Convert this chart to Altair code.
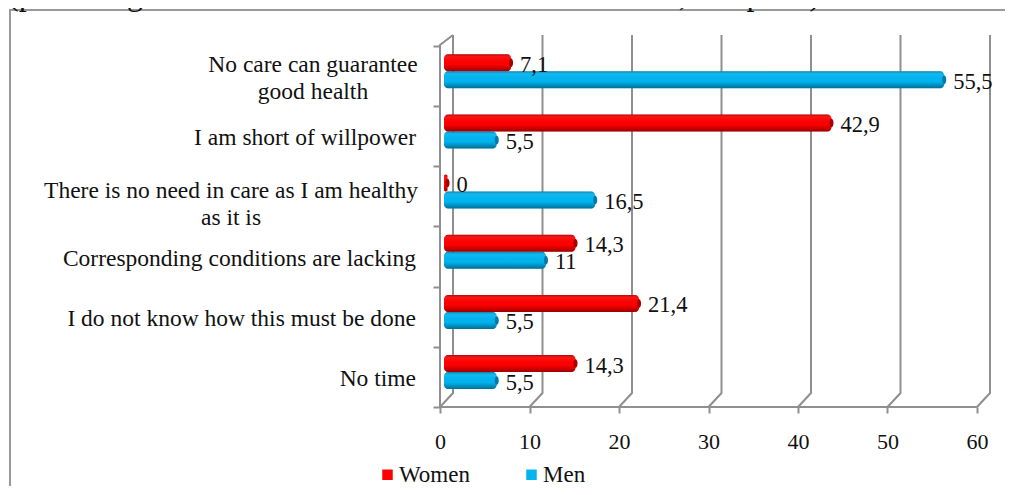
import altair as alt
import pandas as pd

categories = ["No care can guarantee\ngood health", "I am short of willpower",
              "There is no need in care as I am healthy\nas it is",
              "Corresponding conditions are lacking",
              "I do not know how this must be done", "No time"]
women = [7.1, 42.9, 0, 14.3, 21.4, 14.3]
men = [55.5, 5.5, 16.5, 11, 5.5, 5.5]
women_text = ["7,1", "42,9", "0", "14,3", "21,4", "14,3"]
men_text = ["55,5", "5,5", "16,5", "11", "5,5", "5,5"]
x_ticks = [0, 10, 20, 30, 40, 50, 60]
title_text = "(percentage of the total number of those interviewed, sample 1)"
multi_blocks = {0: (-127, -11), 2: (-209, -5)}

FONT = "Liberation Serif"
GREY = "#8f8f8f"
PX_X = 8.95          # pixels per x unit
PX_Y = 60.17         # pixels per category band
DEPTH_X = 13 / PX_X  # depth of the 3D wall
DEPTH_Y = 14 / PX_Y
BAR_X = 7.5 / PX_X   # bars sit mid depth
BAR_Y = 0.08
HALF = 17 / PX_Y
W, H = 565, 372
X_MAX = W / PX_X
Y_MAX = H / PX_Y
n = len(categories)

x_scale = alt.Scale(domain=[0, X_MAX], nice=False, zero=False, padding=0)
y_scale = alt.Scale(domain=[0, Y_MAX], nice=False, zero=False, padding=0)
x_axis = alt.Axis(values=x_ticks, grid=False, domain=False, tickColor=GREY, tickWidth=2,
                  tickSize=6, labelFont=FONT, labelFontSize=22, labelColor="#111",
                  labelPadding=18, format="d", labelFlush=False, labelOverlap=False, title=None)
y_axis = alt.Axis(values=list(range(n + 1)), grid=False, domain=False, labels=False,
                  tickColor=GREY, tickWidth=2, tickSize=7, title=None)


def X(field):
    return alt.X(field, scale=x_scale, axis=x_axis)


def Y(field):
    return alt.Y(field, scale=y_scale, axis=y_axis)


# 3D walls
wall = []
for t in x_ticks:
    wall += [dict(t=t, o=0, x=t, y=0), dict(t=t, o=1, x=t + DEPTH_X, y=DEPTH_Y),
             dict(t=t, o=2, x=t + DEPTH_X, y=Y_MAX)]
walls = alt.Chart(pd.DataFrame(wall)).mark_line(color=GREY, strokeWidth=2).encode(
    x=X("x:Q"), y=Y("y:Q"), detail="t:N", order="o:Q")
front = alt.Chart(pd.DataFrame([dict(x=0, y=0), dict(x=0, y=n + 0.017), dict(x=DEPTH_X, y=Y_MAX)])).mark_line(
    color=GREY, strokeWidth=2).encode(x=X("x:Q"), y=Y("y:Q"))
floor = alt.Chart(pd.DataFrame([dict(x=0, y=0), dict(x=x_ticks[-1], y=0)])).mark_line(
    color=GREY, strokeWidth=2).encode(x=X("x:Q"), y=Y("y:Q"))

# bars
rows = []
for i in range(n):
    base = n - 1 - i + 0.5 + BAR_Y
    for s, v, lab, sign, cap in (("Women", women[i], women_text[i], 1, "#a80000"),
                                 ("Men", men[i], men_text[i], -1, "#0577a5")):
        c = base + sign * HALF / 2
        rows.append(dict(series=s, value=v, label=lab, cap=cap, y=c, y0=c - HALF / 2, y1=c + HALF / 2,
                         x=BAR_X - 3.5 / PX_X, end=v + BAR_X))
bars_df = pd.DataFrame(rows)
color = alt.Color("series:N", scale=alt.Scale(domain=["Women", "Men"], range=["#fe0000", "#00b4f0"]),
                  legend=alt.Legend(title=None, orient="none", legendX=-64, legendY=428, direction="horizontal",
                                    symbolType="square", symbolSize=110, labelFont=FONT, labelFontSize=23,
                                    labelColor="#111", columns=2, columnPadding=50, symbolStrokeWidth=0,
                                    labelOffset=0))
bar = alt.Chart(bars_df).mark_bar(cornerRadius=4, orient="horizontal").encode(
    x=X("x:Q"), x2="end:Q", y=Y("y0:Q"), y2="y1:Q", color=color)
shade = alt.Chart(bars_df).mark_bar(cornerRadius=4, orient="horizontal", fill=alt.Gradient(
    gradient="linear", x1=0, y1=0, x2=0, y2=1,
    stops=[alt.GradientStop(color="rgba(0,0,0,0.28)", offset=0),
           alt.GradientStop(color="rgba(255,255,255,0.05)", offset=0.22),
           alt.GradientStop(color="rgba(0,0,0,0)", offset=0.6),
           alt.GradientStop(color="rgba(0,0,0,0.38)", offset=1)])).encode(
    x=X("x:Q"), x2="end:Q", y=Y("y0:Q"), y2="y1:Q")
ELLIPSE = "M-0.24,0 A0.24,0.5 0 1,1 0.24,0 A0.24,0.5 0 1,1 -0.24,0 Z"
caps = alt.Chart(bars_df).mark_point(shape=ELLIPSE, filled=True, size=289, opacity=1, strokeWidth=0).encode(
    x=X("end:Q"), y=Y("y:Q"), fill=alt.Fill("cap:N", scale=None, legend=None))
values = alt.Chart(bars_df).mark_text(align="left", baseline="middle", font=FONT, fontSize=22.5, dx=9, dy=2,
                                      color="#111").encode(x=X("end:Q"), y=Y("y:Q"), text="label:N")

# category labels: centred lines in a block that ends at the axis gap
singles = pd.DataFrame([dict(t=c, y=n - 1 - i + 0.5) for i, c in enumerate(categories) if "\n" not in c])
cat_single = alt.Chart(singles).mark_text(align="right", baseline="middle", font=FONT, fontSize=23.5, dy=2,
                                          color="#111").encode(x=alt.value(-24), y=Y("y:Q"), text="t:N")
cat_multi = [
    alt.Chart(pd.DataFrame([dict(t=categories[i], y=n - 1 - i + 0.5)])).mark_text(
        align="center", baseline="middle", font=FONT, fontSize=23.5, lineBreak="\n", lineHeight=27, dy=d,
        color="#111").encode(x=alt.value(c), y=Y("y:Q"), text="t:N")
    for i, (c, d) in multi_blocks.items()
]

# frame (runs off the chart at right and bottom) and heading clipped at the top edge
frame = alt.Chart(pd.DataFrame([dict(a=1)])).mark_rect(fill=None, stroke="#999999", strokeWidth=2).encode(
    x=alt.value(-430), x2=alt.value(600), y=alt.value(-25), y2=alt.value(500))
heading = alt.Chart(pd.DataFrame([dict(t=title_text)])).mark_text(
    align="left", baseline="alphabetic", font=FONT, fontSize=32, color="#111").encode(
    x=alt.value(-432), y=alt.value(-30), text="t:N")

chart = alt.layer(frame, heading, walls, floor, front, bar, shade, caps, values, cat_single, *cat_multi).properties(
    width=W, height=H, padding={"left": 432, "top": 27, "right": 0, "bottom": 79},
    autosize=alt.AutoSizeParams(type="none"),
).configure_view(stroke=None)

chart.save("out.html", embed_options={"renderer": "svg", "actions": False})
